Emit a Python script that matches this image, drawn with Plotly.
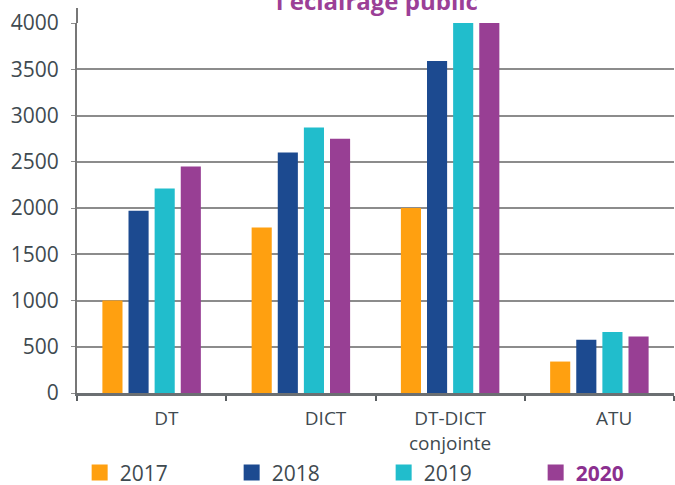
import plotly.graph_objects as go

categories = ["DT", "DICT", "DT-DICT conjointe", "ATU"]
tick_labels = ["\u00a0\u00a0\u00a0\u00a0\u00a0\u00a0DT", "\u00a0\u00a0\u00a0\u00a0\u00a0\u00a0\u00a0\u00a0\u00a0\u00a0DICT",
               "DT-DICT<br>conjointe", "\u00a0\u00a0\u00a0\u00a0\u00a0\u00a0ATU"]
years = ["2017", "2018", "2019", "2020"]
v2017 = [1000, 1790, 2000, 340]
v2018 = [1970, 2600, 3590, 575]
v2019 = [2210, 2870, 4000, 660]
v2020 = [2450, 2750, 4000, 610]
series = [v2017, v2018, v2019, v2020]
colors = ["#FFA010", "#1C4A90", "#21BDCC", "#983F94"]
y_ticks = [0, 500, 1000, 1500, 2000, 2500, 3000, 3500, 4000]

TXT = "#3F4A50"
FONT = "Open Sans"

fig = go.Figure()
for name, vals, col in zip(years, series, colors):
    fig.add_trace(go.Bar(x=categories, y=vals, name=name, marker_color=col,
                         marker_line_width=0, showlegend=False))
for name, col in zip(years, colors):
    label = name
    lw = None
    if name == "2020":
        label = "<b><span style='color:#8B2F8F'>2020</span></b>"
        lw = 60
    fig.add_trace(go.Scatter(x=[None], y=[None], mode="markers", name=label,
                             legendwidth=lw,
                             marker=dict(symbol="square", size=20, color=col)))

fig.update_layout(
    width=675, height=485,
    margin=dict(l=77, r=1, t=23, b=92, autoexpand=False),
    plot_bgcolor="white", paper_bgcolor="white",
    barmode="group", bargap=0.30, bargroupgap=0.23,
    font=dict(family=FONT, color=TXT, size=20),
    annotations=[dict(text="<b>l'éclairage public</b>", font=dict(size=24, color="#9B3F97", family=FONT),
                      xref="paper", x=0.5025, xanchor="center",
                      yref="paper", y=1.062, yanchor="middle", showarrow=False)],
    legend=dict(orientation="h", xref="container", x=0.118, xanchor="left",
                yref="container", y=0.025, yanchor="middle", bgcolor="rgba(0,0,0,0)",
                font=dict(size=21, color=TXT), entrywidth=107, entrywidthmode="pixels",
                itemsizing="trace"),
    shapes=[dict(type="line", xref="paper", yref="paper", x0=0, x1=0, y0=1, y1=1 + 15 / 370,
                 line=dict(color="#777777", width=2))],
)
fig.update_xaxes(
    type="category", range=[-0.5, 3.5],
    tickmode="array", tickvals=categories, ticktext=tick_labels,
    tickson="boundaries", ticks="outside", ticklen=5, tickwidth=2, tickcolor="#5A5F62",
    showline=True, linecolor="#6B6F72", linewidth=3,
    tickfont=dict(size=19, color=TXT), showgrid=False, ticklabelstandoff=6,
)
fig.update_yaxes(
    range=[0, 4000], tickmode="array", tickvals=y_ticks,
    showgrid=True, gridcolor="#8C8C8C", gridwidth=1.5,
    showline=True, linecolor="#777777", linewidth=2,
    ticks="outside", ticklen=4, tickcolor="#8C8C8C",
    tickfont=dict(size=21, color=TXT), zeroline=False,
    ticklabelstandoff=8,
)
fig.write_html("out.html", config={"displayModeBar": False},
               post_script="document.body.style.margin='0';")
